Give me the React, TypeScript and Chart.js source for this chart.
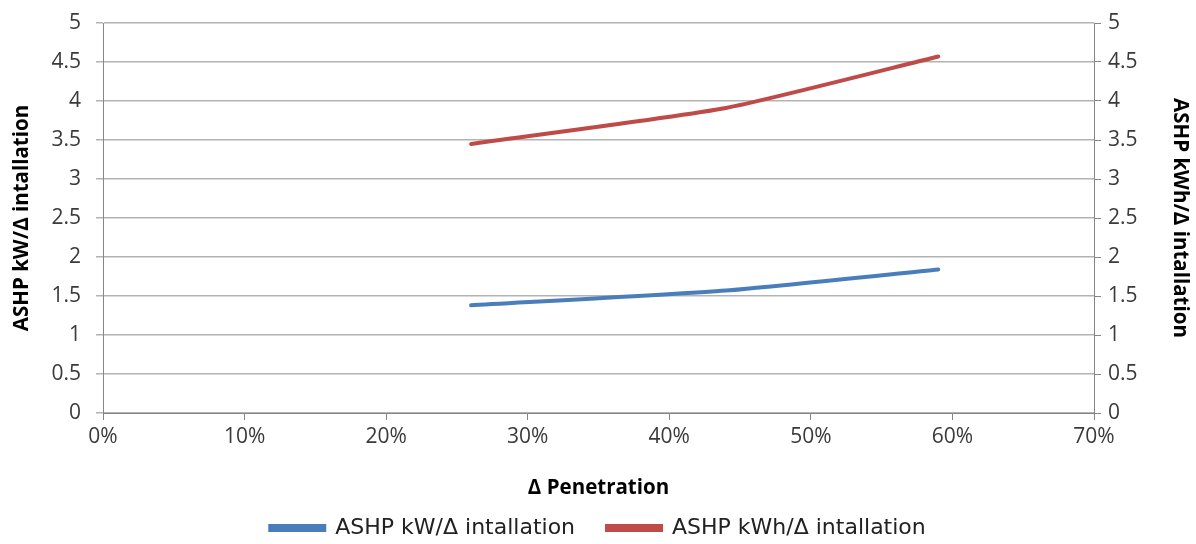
import React, { useEffect, useRef } from "react";
import { Chart, registerables } from "chart.js";

Chart.register(...registerables);

const penetration = [26, 44, 59];
const kwPerInstall = [1.38, 1.57, 1.84];
const kwhPerInstall = [3.45, 3.91, 4.57];
const seriesNames = ["ASHP kW/Δ intallation", "ASHP kWh/Δ intallation"];
const xTitle = "Δ Penetration";
const yLeftTitle = "ASHP kW/Δ intallation";
const yRightTitle = "ASHP kWh/Δ intallation";

const FONT = "'Open Sans', Lato, sans-serif";
const LEGEND_FONT = "'DejaVu Sans', 'Open Sans', sans-serif";

export default function App() {
  const ref = useRef<HTMLCanvasElement | null>(null);
  useEffect(() => {
    if (!ref.current) return;
    const blue = "#4a7ebb";
    const red = "#be4b48";
    const gridColor = "#b3b3b3";
    const axisColor = "#868686";
    const tickColor = "#3a3a3a";
    const fmt = (v: any) => String(Math.round(Number(v) * 10) / 10);
    const yFit = (w: number) => (scale: any) => {
      scale.width = w;
      scale.paddingTop = 0;
      scale.paddingBottom = 0;
    };
    const chart = new Chart(ref.current, {
      type: "line",
      data: {
        datasets: [
          {
            label: seriesNames[0],
            data: penetration.map((x, i) => ({ x, y: kwPerInstall[i] })),
            borderColor: blue,
            backgroundColor: blue,
            borderWidth: 4,
            pointRadius: 0,
            tension: 0.18,
            yAxisID: "y",
            borderCapStyle: "round",
          },
          {
            label: seriesNames[1],
            data: penetration.map((x, i) => ({ x, y: kwhPerInstall[i] })),
            borderColor: red,
            backgroundColor: red,
            borderWidth: 4,
            pointRadius: 0,
            tension: 0.18,
            yAxisID: "y2",
            borderCapStyle: "round",
          },
        ],
      },
      options: {
        animation: false,
        responsive: false,
        maintainAspectRatio: false,
        layout: { padding: { left: 0, right: 0, top: 23, bottom: 0 } },
        plugins: {
          tooltip: { enabled: false },
          legend: {
            position: "bottom",
            labels: {
              boxWidth: 54,
              boxHeight: 4,
              padding: 32,
              color: "#222",
              font: { family: LEGEND_FONT, size: 22 },
            },
          },
        },
        scales: {
          x: {
            type: "linear",
            min: 0,
            max: 70,
            afterFit: (scale: any) => {
              scale.height = 72;
            },
            ticks: {
              stepSize: 10,
              callback: (v: any) => v + "%",
              color: tickColor,
              font: { family: FONT, size: 21 },
              padding: 4,
            },
            grid: {
              drawOnChartArea: false,
              drawTicks: true,
              tickLength: 7,
              color: axisColor,
            },
            border: { color: axisColor, width: 1 },
            title: {
              display: true,
              text: xTitle,
              color: "#000",
              font: { family: FONT, size: 20.5, weight: "bold" },
              padding: { top: 0, bottom: -15 },
            },
          },
          y: {
            position: "left",
            min: 0,
            max: 5,
            afterFit: yFit(103),
            ticks: {
              stepSize: 0.5,
              callback: fmt,
              color: tickColor,
              font: { family: FONT, size: 21 },
              padding: 15,
            },
            grid: { color: gridColor, tickLength: 7, lineWidth: 1.5 },
            border: { color: axisColor, width: 1 },
            title: {
              display: true,
              text: yLeftTitle,
              color: "#000",
              font: { family: FONT, size: 20.5, weight: "bold" },
              padding: { top: 10, bottom: 2 },
            },
          },
          y2: {
            position: "right",
            min: 0,
            max: 5,
            afterFit: yFit(102),
            ticks: {
              stepSize: 0.5,
              callback: fmt,
              color: tickColor,
              font: { family: FONT, size: 21 },
              padding: 7,
            },
            grid: { drawOnChartArea: false, tickLength: 7, color: axisColor },
            border: { color: axisColor, width: 1 },
            title: {
              display: true,
              text: yRightTitle,
              color: "#000",
              font: { family: FONT, size: 20.5, weight: "bold" },
              padding: { top: 4, bottom: 2 },
            },
          },
        },
      },
    });
    return () => chart.destroy();
  }, []);
  return (
    <div
      style={{
        position: "fixed",
        left: 0,
        top: 0,
        width: 1196,
        height: 544,
        overflow: "hidden",
        background: "#fff",
      }}
    >
      <canvas ref={ref} width={1196} height={549} style={{ width: 1196, height: 549, display: "block" }} />
    </div>
  );
}
